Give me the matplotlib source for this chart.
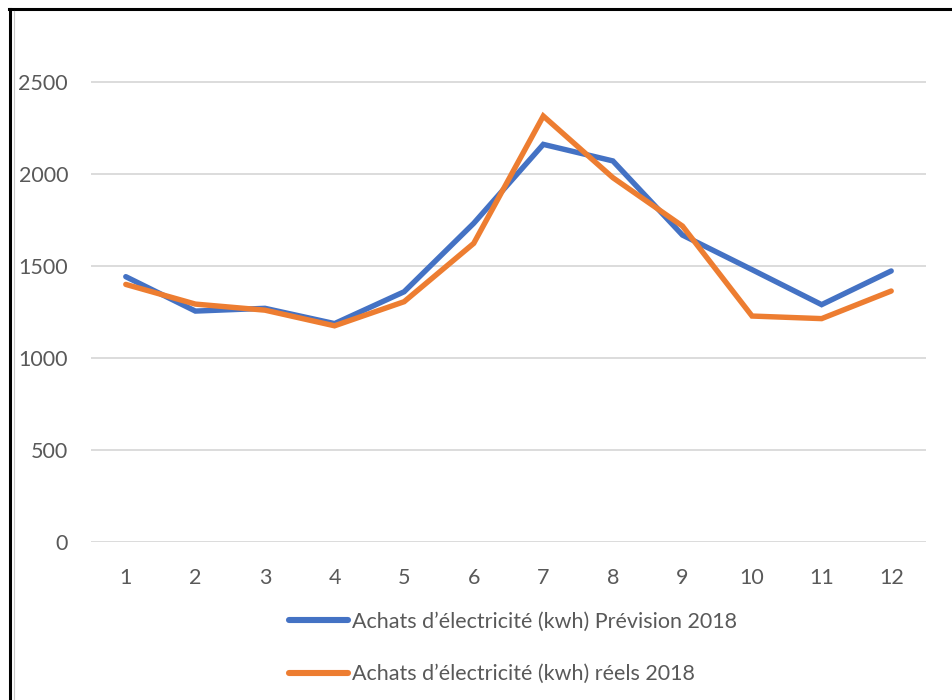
import matplotlib.pyplot as plt
from matplotlib.lines import Line2D

plt.rcParams["font.family"] = ["Lato", "DejaVu Sans"]

# Monthly electricity purchases (kwh)
months = list(range(1, 13))
prevision_2018 = [1442, 1255, 1270, 1187, 1360, 1732, 2161, 2071, 1668, 1480, 1290, 1473]
reels_2018 = [1400, 1293, 1260, 1175, 1306, 1623, 2315, 1980, 1717, 1228, 1214, 1364]
y_ticks = [0, 500, 1000, 1500, 2000, 2500]
labels = [
    "Achats d\u2019électricité (kwh) Prévision 2018",
    "Achats d\u2019électricité (kwh) réels 2018",
]

text_grey = "#595959"

fig = plt.figure(figsize=(9.52, 7), dpi=100)
ax = fig.add_axes([91 / 952, 1 - 542 / 700, 835 / 952, 506 / 700])

ax.plot(months, prevision_2018, color="#4472C4", lw=3.9, solid_capstyle="round",
        solid_joinstyle="miter", label=labels[0])
ax.plot(months, reels_2018, color="#ED7D31", lw=3.9, solid_capstyle="round",
        solid_joinstyle="miter", label=labels[1])

ax.set_xlim(0.5, 12.5)
ax.set_ylim(0, 2750)
ax.set_xticks(months)
ax.set_yticks(y_ticks)
ax.grid(axis="y", color="#D9D9D9", lw=1.3)
ax.set_axisbelow(True)
for s in ax.spines.values():
    s.set_visible(False)
ax.tick_params(length=0, labelsize=15.5, labelcolor=text_grey)
ax.tick_params(axis="y", pad=16.5)
ax.tick_params(axis="x", pad=19)

leg = fig.legend(loc="center", bbox_to_anchor=(513 / 952, 1 - 648 / 700),
                 ncol=1, frameon=False, fontsize=15.5, labelcolor=text_grey,
                 handlelength=2.75, handletextpad=0.15, labelspacing=1.5)
for h in leg.legend_handles:
    h.set_linewidth(4.4)

# frame around the chart (only left and top visible in the crop)
fig.add_artist(Line2D([10 / 952, 10 / 952], [0, 1 - 9 / 700], color="black", lw=2.2,
                      transform=fig.transFigure))
fig.add_artist(Line2D([9 / 952, 1], [1 - 9 / 700, 1 - 9 / 700], color="black", lw=2.2,
                      transform=fig.transFigure))
fig.add_artist(Line2D([13.5 / 952, 13.5 / 952], [0, 1 - 11 / 700], color="#C8C8C8", lw=0.8,
                      transform=fig.transFigure))

fig.savefig("out.png", dpi=100)
